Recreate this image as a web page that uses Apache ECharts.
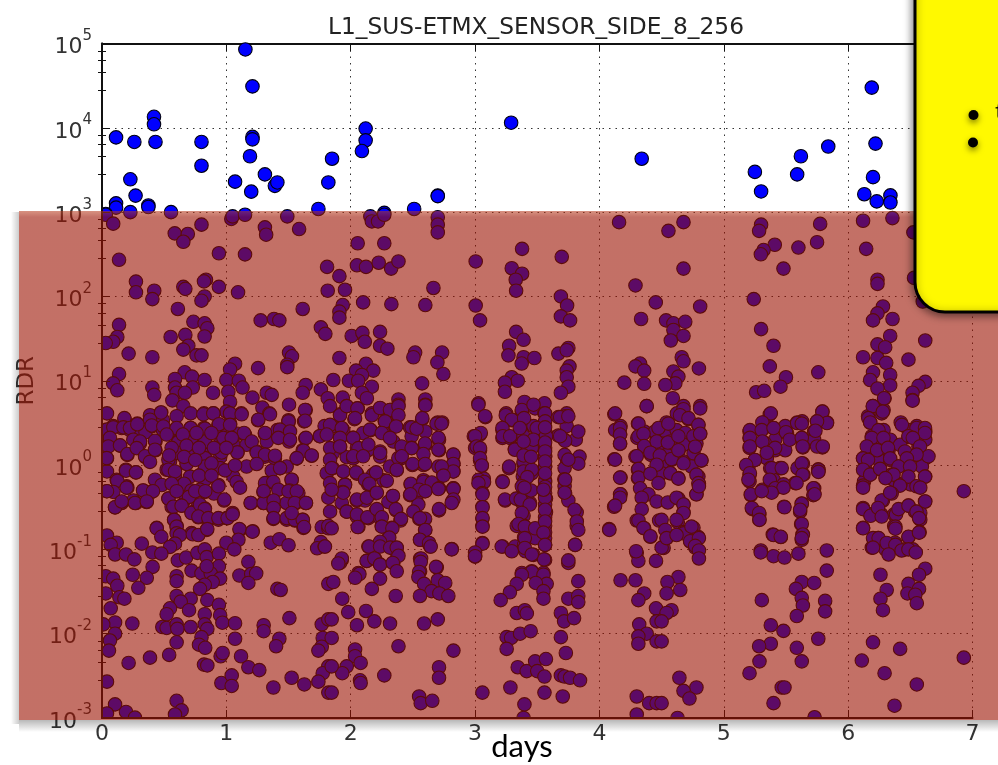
<!DOCTYPE html>
<html><head><meta charset="utf-8">
<style>html,body{margin:0;padding:0;background:#fff;overflow:hidden}#c{width:998px;height:765px}</style>
<script src="https://cdn.jsdelivr.net/npm/echarts@6/dist/echarts.min.js"></script>
</head><body><div id="c"></div>
<script>
const chartTitle = "L1_SUS-ETMX_SENSOR_SIDE_8_256";
const xTicks = [0,1,2,3,4,5,6,7];
const pointsAbove = [[1.153,85000],[1.21,31000],[.418,13500],[.418,11000],[.113,7700],[.26,6800],[.43,6800],[.8,6800],[.8,3550],[1.21,7800],[1.21,7300],[1.19,4600],[.228,2450],[1.07,2300],[1.31,2800],[1.39,2050],[1.41,2250],[1.2,1750],[.27,1570],[.113,1270],[.113,1130],[.373,1200],[.373,1150],[.03,950],[.228,1000],[.555,1000],[1.74,1090],[2.12,9800],[2.12,7100],[2.09,5300],[1.85,4300],[1.82,2250],[2.27,980],[2.51,1090],[2.7,1570],[2.7,1550],[3.29,11500],[4.34,4300],[5.25,3000],[5.3,1760],[5.59,2800],[5.62,4600],[5.84,6000],[6.19,30000],[6.22,6500],[6.2,2600],[6.13,1630],[6.23,1340],[6.34,1580],[6.34,1300]];
const day0to2Upper = [[.03,930],[.09,730],[.8,710],[.585,560],[.69,550],[.654,445],[.94,325],[1.15,315],[.137,272],[1.04,830],[1.05,890],[1.15,930],[1.49,890],[1.31,660],[1.32,540],[1.585,630],[1.81,224],[1.815,117],[.273,150],[.273,112],[.42,117],[.405,93],[.654,130],[.67,123],[.836,158],[.82,151],[.94,130],[1.094,112],[.825,100],[.8,89],[.61,71],[1.614,71],[1.276,52],[1.383,54],[1.426,52],[1.76,43],[1.796,36],[.137,46],[.123,33],[.09,29],[.03,28],[.735,50],[.825,48],[.847,42],[.825,33.5],[.552,33],[.67,35],[.694,26],[.654,23.4],[.214,21],[.405,19],[.76,20],[.8,20],[1.504,21.6],[1.528,19.5],[1.49,15.5],[1.49,14.5],[1.255,14.1],[1.07,15.9],[1.03,13.6],[.665,12.6],[.137,12],[.587,10.5],[.724,11.2],[.825,10.2],[1,10.2],[1.1,10],[.09,9.3],[.123,7.7],[.405,8.3],[.42,6.8],[.587,8.3],[.73,8.3],[.6,7.2],[.667,7.2],[.893,7.2],[1.016,7.4],[1.13,8.3],[1.325,7.2],[1.365,6.8],[1.638,8.9],[1.614,7.2],[1.76,7.9],[1.21,6.3],[.566,5.85],[1.03,5.6],[.654,5],[1.29,4.8],[1.504,5.2],[1.815,6.2],[1,4.3],[.04,4.1],[.475,4.2],[.713,4.1],[1.638,4.5],[1.03,4],[.82,4.1],[.895,4.1],[1.12,4.1],[1.346,4.1]];
const day0to2Band = [[.386,3.8],[.182,3.5],[.49,3.4],[1.5,3.4],[1.625,3.3],[1.255,3.4],[.284,3.1],[.04,2.6],[.09,2.9],[.158,2.75],[.225,2.6],[.284,2.6],[.35,2.45],[.405,2.9],[.49,2.6],[.587,2.6],[.713,2.75],[.82,2.75],[.936,3],[1.03,3.1],[.976,2.35],[1.09,2.35],[1.15,2.3],[1.31,2.35],[1.41,2.6],[1.5,3.2],[1.504,2.5],[1.75,2.2],[1.635,2.07],[1.79,2.9],[.04,1.9],[.145,1.7],[.305,1.8],[.43,1.9],[.61,1.9],[.72,2],[.83,1.9],[.95,1.8],[1.056,1.74],[1.163,1.74],[1.244,1.45],[1.325,1.9],[1.504,1.9],[1.614,1.5],[1.686,1.29],[.04,1.2],[.204,1.32],[.35,1.24],[.43,1.5],[.547,1.1],[.68,1.05],[.83,1.32],[.95,1.24],[1.09,1.41],[1.163,.96],[1.31,1.26],[1.39,1.2],[1.485,.96],[1.566,1.2],[.04,.84],[.193,.88],[.273,.82],[.118,.67],[.198,.56],[.52,.88],[.587,.77],[.708,.73],[.82,.84],[.95,.92],[1.056,.73],[1.43,.92],[1.525,.67],[1.325,.61],[1.807,.8]];
const day0to2BandDense = [[.18,3.6],[.386,3.9],[.475,4.2],[.386,3.45],[.6,3.8],[.815,4],[.895,4.1],[1.03,4.1],[1.123,4],[1.257,3.45],[1.351,4],[1.5,3.3],[1.633,4.5],[1.633,3.35],[.038,2.63],[.091,2.8],[.172,2.8],[.225,2.75],[.284,3.05],[.4,2.95],[.493,2.87],[.6,2.75],[.713,2.75],[.828,2.7],[.941,3.05],[1.03,3],[1.142,2.4],[1.311,2.4],[1.432,2.63],[1.512,2.5],[1.753,2.2],[.038,1.82],[.064,2.1],[.252,2],[.306,1.9],[.426,1.94],[.614,1.87],[.72,2.1],[.828,1.9],[.976,2.1],[1.043,2.1],[1.204,1.9],[1.418,2.1],[1.512,2],[1.64,2.1],[.051,1.66],[.145,1.71],[.204,1.35],[.279,1.59],[.346,1.27],[.386,1.09],[.426,1.52],[.534,1.16],[.614,1.39],[.713,1.45],[.828,1.21],[.962,1.41],[1.088,1.41],[1.244,1.41],[1.311,1.33],[1.391,1.29],[1.62,1.48],[1.686,1.3],[1.566,1.21],[.038,1.21],[.193,.857],[.273,.82],[.534,.88],[.587,.84],[.681,1.03],[.828,.96],[.989,.865],[1.07,.99],[1.244,1.03],[1.365,.857],[1.432,.92],[.123,.65],[.426,.67],[.48,.58],[.828,.67],[.936,.58],[1.083,.63],[1.311,.61],[1.378,.63],[1.525,.67],[.038,.49],[.091,.48],[.204,.54],[.332,.5],[.4,.48],[.534,.4],[.606,.49],[.676,.4],[.788,.51],[.828,.48],[1.298,.48],[1.418,.51],[1.507,.5],[1.579,.465],[.105,.315],[.158,.355],[.252,.38],[.273,.355],[.359,.365],[.56,.32],[.64,.33],[.775,.34],[.828,.305],[.981,.38],[1.196,.355],[1.298,.355],[1.378,.365],[1.485,.355],[1.558,.355],[1.64,.355],[1.378,.31],[.72,.275],[.775,.24],[.855,.225],[.936,.225],[1.003,.235],[1.05,.27],[.58,.225],[1.378,.23],[1.485,.225],[1.552,.22],[1.614,.225],[.44,.18],[.6,.19],[.72,.156],[.842,.17],[1.11,.17],[1.212,.164],[1.62,.18],[.52,2.3],[.56,1.6],[.65,2.3],[.68,1.7],[.76,2.4],[.78,1.6],[.88,2.4],[.9,1.6],[1,1.6],[.54,1.3],[.66,1.25],[.75,1.15],[.88,1.05],[.78,.75],[.66,.6],[.72,.5],[.88,.75],[.7,.42],[.9,.46],[.56,.6]];
const day0to2Lower = [[.04,.49],[.105,.316],[.158,.37],[.265,.355],[.198,.54],[.33,.5],[.41,.49],[.36,.37],[.534,.4],[.574,.32],[.64,.33],[.6,.49],[.75,.49],[.83,.49],[.936,.56],[.72,.27],[.788,.34],[.826,.3],[.775,.245],[.855,.235],[.936,.235],[1.01,.235],[1.05,.26],[.984,.39],[1.11,.54],[1.196,.355],[1.3,.355],[1.38,.38],[1.38,.31],[1.38,.235],[1.3,.49],[1.5,.49],[1.566,.49],[1.55,.355],[1.64,.355],[1.485,.235],[1.55,.224],[1.614,.224],[1.625,.184],[1.525,.27],[.58,.224],[.6,.186],[.6,.155],[.627,.148],[.44,.178],[.477,.141],[.73,.151],[.775,.148],[.847,.174],[1.105,.174],[1.21,.162],[1.097,.13],[1,.12],[1.064,.1],[1.357,.12],[1.426,.132],[1.5,.112],[1.767,.184],[1.82,.178],[1.76,.122],[1.73,.103],[1.79,.108],[.04,.146],[.118,.12],[.07,.113],[.32,.117],[.587,.117],[.547,.107],[.405,.092],[.477,.089],[.105,.087],[.193,.087],[.26,.076],[.61,.074],[.676,.08],[.767,.091],[.826,.1],[.842,.081],[.94,.089],[.94,.063],[1.177,.071],[.72,.056],[.8,.052],[.874,.052],[.842,.063],[.407,.062],[.03,.048],[.09,.045],[.247,.05],[.36,.046],[.123,.037],[.6,.048],[.6,.042],[.95,.045],[.89,.041],[.826,.038],[.788,.034],[1.105,.049],[1.2,.051],[1.24,.052],[1.177,.04],[1.82,.039],[.292,.035],[1.41,.034],[1.437,.033],[.03,.03],[.14,.027],[.18,.026],[.6,.028],[.713,.026],[.847,.025],[.633,.024],[.94,.022],[.07,.02],[.547,.02],[.7,.019],[.52,.017],[.826,.017],[.95,.0166],[.105,.0136],[.244,.0132],[.01,.0129],[.968,.0135],[1.07,.0133],[1.3,.0126],[1.507,.0153],[1.767,.0129],[1.82,.0148],[.485,.012],[.52,.0117],[.6,.0129],[.606,.0114],[.713,.012],[.826,.0129],[.847,.0114],[1.3,.0107],[.105,.01],[.6,.0079],[.8,.0091],[1.07,.0087],[1.426,.0087],[1.775,.0089],[.064,.0083],[.056,.0063],[.78,.0074],[.83,.0068],[1.4,.0071],[1.767,.007],[1.74,.0063],[.386,.0052],[.54,.0056],[.954,.0054],[.97,.0059],[1.118,.0054],[.214,.0045],[.82,.0043],[.847,.0042],[1.177,.004],[1.265,.0037],[1.82,.0041],[1.775,.0034],[.04,.0027],[.96,.0026],[1.043,.0032],[1.043,.0024],[1.525,.003],[1.627,.0025],[1.74,.0027],[1.378,.0023],[1.82,.002],[.6,.0016],[.105,.00145],[.193,.00118],[.64,.00123],[.04,.00113],[.587,.0011],[.265,.00101]];
const day2to4Upper = [[2.158,890],[2.17,775],[2.22,775],[2.27,930],[2.7,870],[2.7,710],[2.7,575],[2.056,427],[2.27,427],[2.05,234],[2.123,224],[2.225,251],[2.325,214],[2.384,260],[1.909,174],[1.954,120],[2.665,126],[3.005,260],[3.378,367],[3.295,216],[3.378,186],[3.327,158],[3.33,117],[3.697,295],[4.158,760],[4.29,135],[2.1,85],[2.327,81],[2.6,79],[3.005,78],[3.69,100],[3.74,78],[3.69,58],[3.764,52],[3.04,52],[4.453,85],[4.335,54],[1.936,79],[1.909,66],[1.909,56],[2.008,34],[2.094,37],[2.113,29],[2.236,38],[2.236,26],[2.295,24],[1.909,18.6],[2.518,21.6],[2.504,19],[2.735,21.6],[2.697,16.5],[2.745,12],[3.33,38],[3.39,30.6],[3.274,26],[3.268,20],[3.39,19],[3.375,16],[3.477,18.6],[3.67,21],[3.75,24.5],[3.737,23],[3.759,14.8],[3.737,13.2],[3.737,11],[3.75,8.5],[3.69,7.2],[3.295,11],[3.343,10],[3.24,9.5],[3.24,7.4],[4.327,16],[4.29,14.8],[4.36,13.2],[4.2,9.5],[4.36,9.2],[4.38,5],[4.12,4],[3.027,5.4],[3.083,3.7],[2.123,15.9],[2.043,13.2],[2.182,13.2],[2.09,11.7],[1.86,10.2],[1.986,10],[2.06,10],[2.17,8.5],[2.09,7.2],[2.13,6.2],[2.574,9.3],[2.384,6],[2.6,6],[2.6,5.2],[1.936,6.3],[1.968,5],[2.056,4.7],[2.236,4.7],[2.316,4.5],[2.384,5.2],[2.17,4.1],[2.375,4],[1.914,4],[2.03,3.5],[2.274,3.3],[2.574,3.5],[2.7,3.2],[2.735,3.2]];
const day2to4Band = [[2.161,2.6],[2.1,2.4],[1.94,2.6],[2.02,2.1],[1.914,2.1],[1.855,2.9],[2.263,2.5],[2.356,2.9],[2.343,1.9],[2.477,2.8],[2.531,2.7],[2.6,2.5],[2.49,2.2],[2.71,2],[2.6,1.74],[2.41,1.62],[2.49,1.6],[2.71,1.5],[2.826,1.32],[2.236,1.45],[2.137,1.5],[2.05,1.6],[1.914,1.62],[1.855,1.38],[1.968,1.24],[2.02,1.2],[2.405,1.2],[2.496,1],[2.585,1],[2.705,.96],[2.826,1.05],[2.826,.84],[2.745,.77],[2.37,.87],[2.316,.96],[2.236,1.26],[1.94,.84],[1.855,.92],[2.05,.79],[2.18,.77],[2.264,.66],[2.14,.59],[1.954,.59],[2.482,.59],[2.585,.66],[2.652,.59],[2.826,.53],[3.04,2.3],[2.99,2.2],[3.04,1.5],[3,1.6],[3.04,1.14],[3.054,.98],[3.07,.69],[3.03,.67],[3.22,.64],[3.273,.92],[3.25,4.1],[3.295,3.4],[3.22,2.6],[3.22,2.1],[3.28,2.1],[3.32,1.55],[3.397,5.6],[3.376,4.3],[3.376,2.9],[3.376,2.2],[3.39,1.5],[3.39,1.04],[3.456,.8],[3.384,.73],[3.483,4.7],[3.558,5.4],[3.558,4.1],[3.497,2.7],[3.57,2.35],[3.456,1.6],[3.563,1.6],[3.563,1.26],[3.563,.96],[3.563,.66],[3.47,2.9],[3.67,3.7],[3.737,4.1],[3.737,2.9],[3.67,2.24],[3.718,2],[3.81,2],[3.83,2.5],[3.74,1.15],[3.84,1.26],[3.83,1.04],[3.72,1.32],[3.72,.92],[3.718,.68],[3.72,.56],[4.12,1.17],[4.126,2.6],[4.17,2.9],[4.166,2.3],[4.166,1.78],[4.29,1.26],[4.31,3.1],[4.305,2.1],[4.36,2.5],[4.36,1.66],[4.415,1.32],[4.46,2],[4.447,2.5],[4.31,.88],[4.42,.8],[4.31,.7],[4.17,.71],[4.475,1.15]];
const day2to4BandDense = [[1.834,5],[1.914,3.9],[1.968,5],[2.054,4.7],[2.035,3.6],[2.17,3.9],[2.236,4.75],[2.316,4.5],[2.384,5],[2.384,3.9],[2.276,3.3],[2.6,5.1],[1.834,3],[1.928,2.75],[1.807,2.3],[1.914,2.1],[1.834,1.59],[1.914,1.66],[2.02,2.1],[2.062,1.59],[2.155,2.63],[2.25,2.4],[2.365,2.87],[2.142,1.75],[2.236,1.39],[2.316,2.1],[2.41,1.66],[2.383,1.21],[2.49,2.8],[2.53,2.7],[2.576,3.6],[2.69,3.1],[2.73,3.1],[2.598,1.8],[2.49,1.59],[2.705,2.1],[2.585,1.35],[2.498,1.03],[2.705,1.52],[2.825,1.33],[2.825,1.03],[2.825,.84],[2.732,.96],[2.746,.75],[2.598,1.03],[2.41,1.27],[1.834,1.16],[1.847,.92],[1.834,.61],[1.94,.84],[2.02,1.27],[2.1,1.27],[2.043,.82],[2.204,.82],[2.115,.67],[2.15,.6],[2.29,.65],[2.37,.88],[1.954,.58],[1.936,.48],[1.82,.41],[1.928,.355],[2.048,.38],[2.115,.38],[2.204,.465],[2.338,.43],[2.303,.365],[1.968,.28],[1.834,.28],[2.142,.235],[2.048,.245],[2.204,.29],[2.365,.29],[2.236,.235],[2.4,.22],[2.483,.6],[2.477,.44],[2.53,.43],[2.598,.49],[2.585,.63],[2.652,.62],[2.71,.53],[2.825,.53],[2.817,.37],[2.544,.34],[2.504,.28],[2.552,.23],[2.71,.29],[2.598,.23],[2.598,.17],[1.82,.19],[2.062,.185],[2.25,.19],[2.33,.18],[2.303,.136],[2.558,.13],[2.625,.119],[2.142,.108],[2.236,.119],[2.33,.104],[2.37,.104],[1.793,.108],[2.812,.101],[2.64,.108],[1.928,.075],[1.914,.069],[2.13,.073],[2.195,.0775],[2.236,.066],[2.343,.069],[2.376,.086],[2.558,.0775],[2.692,.061],[2.558,.055],[2.062,.0525],[3.027,5.2],[3.08,3.8],[3.046,2.4],[3,2.2],[3.013,1.66],[3.04,1.59],[3.04,1.21],[3.054,.99],[3.072,.63],[3.027,.61],[3.222,.63],[3.059,.465],[3.242,.38],[3.059,.32],[3.059,.235],[3.059,.19],[3.059,.119],[3,.086],[3,.082],[3.222,.108],[3.295,.097],[3.322,.108],[3.274,.96],[3.247,3.9],[3.295,3.45],[3.22,2.75],[3.223,2.2],[3.282,2.2],[3.32,1.52],[3.376,4.5],[3.394,3.6],[3.39,2.2],[3.36,2.75],[3.456,1.59],[3.39,1.09],[3.39,.84],[3.456,.88],[3.39,.61],[3.362,.38],[3.442,.355],[3.39,.25],[3.335,.19],[3.394,.19],[3.469,.17],[3.394,.14],[3.394,.113],[3.47,.086],[3.405,.095],[3.47,5.2],[3.563,4.1],[3.563,3.3],[3.496,2.75],[3.57,2.2],[3.469,2],[3.563,1.27],[3.563,.96],[3.563,.63],[3.563,.465],[3.57,.4],[3.57,.275],[3.563,.19],[3.563,.136],[3.563,.113],[3.563,.075],[3.483,.136],[3.456,.055],[3.376,.0525],[3.55,.0525],[3.724,3.8],[3.684,3.7],[3.75,3.8],[3.724,1.94],[3.684,2.2],[3.75,1.16],[3.724,.67],[3.724,.465],[3.75,.38],[3.817,.275],[3.817,.19],[3.804,.113],[3.75,.069],[3.563,2.8],[3.563,1.85],[3.563,1.45],[3.563,1.1],[3.563,.8],[3.563,.55],[3.563,.34],[3.563,.24],[3.563,.16],[3.39,1.9],[3.39,1.3],[3.39,.5],[3.39,.33],[3.42,.72],[3.45,.5],[3.45,1.25]];
const day2to4Lower = [[1.94,.47],[1.847,.51],[1.968,.28],[2.05,.39],[2.13,.41],[2.21,.47],[2.34,.43],[2.05,.26],[2.134,.24],[2.21,.3],[2.362,.3],[2.405,.23],[2.25,.24],[2.056,.184],[1.847,.178],[2.25,.186],[2.335,.178],[2.31,.138],[2.236,.123],[2.147,.108],[2.236,.108],[2.317,.105],[2.37,.105],[2.384,.084],[2.128,.073],[2.19,.078],[2.236,.066],[2.338,.069],[2.37,.055],[1.928,.078],[1.9,.068],[2.07,.051],[2.035,.046],[2.236,.045],[1.86,.041],[2.17,.034],[2.362,.028],[1.932,.026],[2.123,.0186],[2.19,.014],[1.98,.018],[1.847,.0148],[2.05,.0126],[2.316,.0132],[1.847,.0089],[2.035,.0065],[2.035,.0054],[2.384,.0071],[2.08,.0045],[1.968,.0041],[1.932,.0034],[1.847,.0041],[2.075,.0028],[2.08,.0026],[2.27,.0032],[1.847,.002],[2.55,.51],[2.48,.45],[2.6,.49],[2.705,.52],[2.826,.52],[2.826,.39],[2.812,.355],[2.71,.3],[2.557,.235],[2.6,.17],[2.557,.13],[2.63,.119],[2.643,.108],[2.812,.1],[2.566,.078],[2.563,.071],[2.686,.062],[2.55,.054],[2.544,.047],[2.59,.039],[2.7,.043],[2.76,.04],[2.65,.032],[2.713,.03],[2.785,.028],[2.557,.028],[2.59,.0132],[2.7,.0148],[2.826,.0063],[2.71,.004],[2.71,.003],[2.55,.0018],[2.563,.0015],[2.656,.0016],[3.06,.45],[3.06,.316],[3.06,.235],[3.06,.186],[3.06,.117],[3,.092],[3,.083],[3.24,.39],[3.33,.4],[3.367,.39],[3.44,.34],[3.376,.27],[3.35,.2],[3.4,.186],[3.483,.178],[3.4,.136],[3.563,.41],[3.563,.295],[3.563,.214],[3.55,.158],[3.563,.113],[3.555,.076],[3.214,.108],[3.295,.095],[3.4,.104],[3.456,.087],[3.376,.56],[3.55,.51],[3.397,.54],[3.456,.054],[3.376,.05],[3.335,.039],[3.55,.05],[3.576,.039],[3.488,.04],[3.55,.032],[3.55,.026],[3.28,.031],[3.206,.025],[3.335,.0176],[3.4,.019],[3.416,.0174],[3.254,.0091],[3.29,.0089],[3.362,.01],[3.447,.0107],[3.254,.0066],[3.343,.004],[3.415,.0036],[3.483,.0047],[3.57,.005],[3.5,.0036],[3.558,.0031],[3.059,.002],[3.284,.0023],[3.558,.002],[3.397,.00145],[3.39,.001],[3.72,.47],[3.8,.295],[3.818,.214],[3.83,.17],[3.805,.113],[3.75,.074],[3.83,.042],[3.75,.026],[3.83,.028],[3.83,.0237],[3.69,.0176],[3.716,.014],[3.796,.0153],[3.69,.0091],[3.73,.0059],[3.69,.0032],[3.72,.0031],[3.764,.003],[3.844,.0028],[3.705,.0018],[4.078,.174],[4.118,.32],[4.17,.45],[4.3,.22],[4.36,.178],[4.41,.141],[4.3,.091],[4.313,.073],[4.455,.073],[4.17,.043],[4.29,.043],[4.36,.03],[4.313,.025],[4.455,.02],[4.46,.014],[4.32,.0129],[4.38,.01],[4.313,.0093],[4.313,.0076],[4.46,.0081],[4.3,.0018],[4.4,.0015],[4.46,.0015],[4.3,.0011]];
const day4to7Upper = [[4.676,760],[4.555,600],[4.676,214],[5.3,710],[5.284,600],[5.775,725],[5.75,440],[5.41,410],[5.6,380],[5.32,355],[5.298,316],[5.48,214],[6.12,790],[6.356,850],[6.145,367],[6.236,158],[6.236,141],[5.241,93],[4.81,76],[6.28,76],[6.236,63],[6.2,52],[6.357,54],[4.536,52],[4.595,48],[4.69,50],[4.595,40],[4.676,34],[4.574,30],[5.3,41],[5.4,26],[6.338,34],[6.62,30],[6.236,27],[6.298,25],[6.12,19],[6.236,18.6],[6.306,16.3],[6.485,17.8],[4.662,19],[4.676,17],[4.8,14],[5.37,14.8],[5.76,12.6],[5.5,11],[4.595,12.9],[4.635,11.2],[4.61,9.3],[4.53,8.9],[5.456,8.5],[5.26,7.3],[5.325,7.6],[6.2,12.6],[6.338,11.7],[6.177,10.2],[6.338,8.8],[6.236,8.1],[6.62,9.7],[6.566,8.7],[6.518,7.2],[6.518,5.9],[6.293,6.2],[6.2,5],[6.285,4.5],[6.27,4.1],[4.59,6.2],[4.676,5],[4.81,5],[4.623,4.1],[5.37,4],[5.793,4.3],[5.83,3.2],[5.75,3.3],[5.63,3.3],[5.59,3.2],[5.32,3.2],[6.525,575],[6.53,166],[6.6,87]];
const day4to7Band = [[4.54,3.2],[4.716,3.5],[4.796,3],[4.54,2.4],[4.62,2.6],[4.69,2.4],[4.757,2.1],[4.81,2.35],[4.57,1.9],[4.5,1.8],[4.676,1.74],[4.78,1.8],[4.635,1.45],[4.757,1.38],[4.54,1.32],[4.82,1.13],[4.58,1.15],[4.676,1.1],[4.5,1],[4.74,.96],[4.635,.7],[4.57,.8],[4.796,.73],[4.8,.6],[4.5,.8],[5.207,2.5],[5.207,2.1],[5.207,1.6],[5.25,1.15],[5.2,.98],[5.207,.77],[5.207,.64],[5.305,2.6],[5.4,2.75],[5.494,2.9],[5.508,2.4],[5.413,2],[5.33,1.82],[5.413,1.5],[5.494,1.5],[5.346,1.2],[5.453,.92],[5.373,.92],[5.4,.67],[5.574,.61],[5.48,.59],[5.64,.77],[5.593,.92],[5.636,1.04],[5.627,2.1],[5.636,1.62],[5.727,2.5],[5.727,2],[5.793,1.62],[5.76,.89],[5.76,.84],[5.727,.53],[6.16,3.8],[6.177,3.2],[6.285,2.6],[6.19,2.2],[6.256,2],[6.338,2],[6.164,1.62],[6.23,1.5],[6.325,1.5],[6.12,1.2],[6.245,1.17],[6.137,.92],[6.256,.89],[6.177,.77],[6.128,.64],[6.423,3.2],[6.485,2.6],[6.552,2.9],[6.62,2.5],[6.485,2.15],[6.62,2],[6.566,1.66],[6.418,1.74],[6.338,1.15],[6.552,1.32],[6.485,.96],[6.405,.96],[6.62,1.2],[6.593,.96],[6.62,.73],[6.35,.77],[6.365,.67],[6.5,.59],[6.42,.59],[6.93,.49]];
const day4to7BandDense = [[4.126,4.1],[4.38,5],[4.676,4.6],[4.81,4.7],[4.314,3.1],[4.475,2.75],[4.554,3.1],[4.648,3.9],[4.716,3.6],[4.796,3],[4.166,2.75],[4.166,2.3],[4.166,1.8],[4.314,2.2],[4.354,2.35],[4.46,1.9],[4.55,1.85],[4.635,2.2],[4.756,2.2],[4.81,2.35],[4.36,1.68],[4.41,1.4],[4.486,1.3],[4.58,1.18],[4.635,1.5],[4.77,1.65],[4.82,1.14],[4.3,1.27],[4.126,1.16],[4.676,1.05],[4.314,.9],[4.46,1.01],[4.314,.71],[4.41,.79],[4.57,.8],[4.635,.69],[4.78,.77],[4.796,.61],[4.475,.61],[4.166,.71],[4.327,.53],[4.394,.45],[4.166,.45],[4.166,.41],[4.78,.45],[4.34,.41],[4.46,.37],[4.55,.36],[4.635,.4],[4.676,.34],[4.126,.33],[4.34,.3],[4.676,.275],[4.314,.22],[4.48,.22],[4.63,.21],[4.08,.17],[4.354,.18],[4.41,.143],[4.54,.136],[4.676,.16],[4.756,.18],[4.73,.124],[4.796,.14],[4.516,.104],[4.295,.095],[4.77,.105],[5.378,4.1],[5.793,4.3],[5.83,3.15],[5.31,3.2],[5.21,2.6],[5.21,2.1],[5.21,1.66],[5.305,2.6],[5.4,2.75],[5.5,2.45],[5.59,3.15],[5.627,3.1],[5.75,3.3],[5.737,2.55],[5.31,1.9],[5.413,1.6],[5.53,2],[5.627,2.1],[5.634,1.66],[5.75,1.66],[5.796,1.66],[5.25,1.15],[5.346,1.4],[5.18,1],[5.21,.8],[5.198,.67],[5.385,.92],[5.466,.92],[5.627,1.05],[5.634,.77],[5.761,.88],[5.761,.83],[5.31,.51],[5.37,.67],[5.413,.53],[5.48,.54],[5.585,.61],[5.72,.53],[5.72,.44],[5.218,.44],[5.385,.47],[5.627,.35],[5.614,.28],[5.485,.32],[5.23,.3],[5.286,.26],[5.286,.225],[5.622,.2],[5.394,.15],[5.459,.14],[5.633,.15],[5.627,.13],[5.298,.097],[6.289,6.2],[6.518,5.8],[6.198,5],[6.279,4.3],[6.163,3.6],[6.177,3.2],[6.244,2.6],[6.432,3],[6.55,2.75],[6.618,2.75],[6.485,2.2],[6.618,2.4],[6.19,2.1],[6.284,2.1],[6.52,2.1],[6.15,1.66],[6.233,1.5],[6.32,1.6],[6.457,1.45],[6.578,1.66],[6.646,1.27],[6.55,1.33],[6.12,1.2],[6.16,1.15],[6.338,1.2],[6.472,1.2],[6.405,.96],[6.498,.96],[6.618,.73],[6.12,.88],[6.177,.77],[6.257,.9],[6.365,.77],[6.485,.73],[6.12,.57],[6.3,.7],[6.417,.57],[6.55,.56],[6.35,.46],[6.28,.38],[6.618,.37],[6.485,.33],[6.538,.28],[6.58,.27],[6.12,.31],[6.177,.26],[6.267,.26],[6.37,.26],[6.58,.225],[6.37,.19],[6.12,.18],[6.575,.16],[6.485,.14],[6.24,.136],[6.377,.12],[6.19,.105],[6.3,.1],[6.457,.1],[6.52,.1]];
const day4to7Lower = [[4.62,.41],[4.676,.34],[4.676,.27],[4.78,.45],[4.8,.56],[4.5,.224],[4.62,.224],[4.53,.17],[4.5,.105],[4.676,.155],[4.74,.186],[4.54,.136],[4.62,.148],[4.73,.125],[4.8,.136],[4.77,.11],[4.8,.097],[4.8,.078],[4.635,.047],[4.547,.041],[4.65,.033],[4.54,.03],[4.58,.019],[4.54,.0176],[4.5,.014],[4.5,.0081],[4.643,.003],[4.78,.0023],[4.676,.0021],[4.724,.0017],[4.5,.0015],[4.628,.001],[5.217,.45],[5.225,.31],[5.284,.27],[5.287,.224],[5.305,.49],[5.4,.148],[5.458,.141],[5.488,.316],[5.627,.347],[5.614,.295],[5.627,.2],[5.636,.15],[5.627,.136],[5.73,.45],[5.4,.083],[5.488,.08],[5.297,.092],[5.6,.089],[5.828,.097],[5.828,.056],[5.627,.041],[5.727,.04],[5.58,.034],[5.627,.0266],[5.636,.0216],[5.587,.0162],[5.815,.0245],[5.815,.0184],[5.306,.025],[5.378,.0126],[5.48,.0108],[5.76,.0087],[5.378,.0076],[5.284,.0071],[5.587,.0068],[5.287,.0047],[5.627,.0047],[5.207,.0034],[5.466,.0023],[5.488,.0023],[5.4,.0015],[5.73,.00102],[6.12,.54],[6.27,.38],[6.12,.3],[6.18,.25],[6.24,.31],[6.27,.245],[6.385,.26],[6.405,.3],[6.485,.33],[6.55,.28],[6.57,.235],[6.62,.37],[6.58,.54],[6.338,.47],[6.38,.186],[6.38,.176],[6.12,.178],[6.2,.136],[6.245,.136],[6.485,.141],[6.57,.158],[6.2,.105],[6.31,.119],[6.38,.113],[6.325,.087],[6.43,.097],[6.485,.1],[6.544,.092],[6.62,.059],[6.57,.05],[6.26,.05],[6.485,.039],[6.57,.034],[6.31,.033],[6.477,.03],[6.54,.029],[6.26,.026],[6.28,.019],[6.552,.023],[6.2,.0079],[6.418,.0066],[6.11,.0048],[6.293,.0034],[6.552,.0025],[6.373,.0014],[6.93,.0052]];

const allPoints = [].concat(pointsAbove, day0to2Upper, day0to2Band, day0to2BandDense, day0to2Lower, day2to4Upper, day2to4Band, day2to4BandDense, day2to4Lower, day4to7Upper, day4to7Band, day4to7BandDense, day4to7Lower);

const font = 'DejaVu Sans';
const logAxisBase = {
  type:'log', logBase:10, min:1e-3, max:1e5, splitNumber:8,
  axisLine:{show:true,lineStyle:{color:'#111',width:2}},
  axisTick:{show:true,inside:true,length:8,lineStyle:{color:'#111',width:1}},
  minorTick:{show:true,splitNumber:5,length:-4,lineStyle:{color:'#111',width:1}},
  minorSplitLine:{show:false}
};
const dotted = {show:true,lineStyle:{color:'#333',type:[1.5,5],width:1}};
const chart = echarts.init(document.getElementById('c'),null,{renderer:'canvas'});
chart.setOption({
  animation:false,
  backgroundColor:'#fff',
  title:{text:chartTitle,left:531,top:11,textAlign:'center',textStyle:{fontFamily:font,fontWeight:'normal',fontSize:23.3,color:'#222'}},
  grid:{left:102,width:870.5,top:43.5,height:674.5,show:false},
  xAxis:[{type:'value',min:0,max:7,interval:1,position:'bottom',z:60,
    axisLine:{show:true,onZero:false,lineStyle:{color:'#111',width:2}},
    axisTick:{show:true,inside:true,length:8,lineStyle:{color:'#111'}},
    axisLabel:{margin:5,fontFamily:font,fontSize:22,color:'#333'},
    splitLine:{show:false}},
   {type:'value',min:0,max:7,interval:1,position:'top',z:1,
    axisLine:{show:true,onZero:false,lineStyle:{color:'#111',width:2}},
    axisTick:{show:true,inside:true,length:8,lineStyle:{color:'#111'}},
    axisLabel:{show:false},splitLine:dotted}],
  yAxis:[Object.assign({},logAxisBase,{position:'left',z:60,name:'RDR',nameLocation:'middle',nameGap:63,
      nameTextStyle:{fontFamily:font,fontSize:23,color:'#333'},
      axisLabel:{margin:10,color:'#333',formatter:function(v){var e=Math.round(Math.log10(v));return '{b|10}{s|'+e+'}';},
        rich:{b:{fontFamily:font,fontSize:22,color:'#333',verticalAlign:'bottom',padding:[8,0,0,0]},s:{fontFamily:font,fontSize:15,color:'#333',verticalAlign:'top',padding:[0,0,8,0]}}},
      splitLine:{show:false}}),
    Object.assign({},logAxisBase,{position:'right',z:1,axisLabel:{show:false},splitLine:dotted})],
  series:[{type:'scatter',name:'RDR',data:allPoints,symbol:'circle',symbolSize:13.5,clip:true,z:3,
    itemStyle:{color:'#0000ff',borderColor:'#000010',borderWidth:1.1,opacity:1}}],
  graphic:[
    {type:'rect',z:50,silent:true,shape:{x:0,y:0,width:101.5,height:765},style:{fill:'#fff'}},
    {type:'rect',z:50,silent:true,shape:{x:0,y:718.5,width:998,height:47},style:{fill:'#fff'}},
    {type:'rect',z:100,silent:true,shape:{x:19,y:720,width:979,height:12},
      style:{fill:new echarts.graphic.LinearGradient(0,0,0,1,[{offset:0,color:'rgba(0,0,0,0.28)'},{offset:1,color:'rgba(0,0,0,0)'}])}},
    {type:'rect',z:100,silent:true,shape:{x:11,y:212,width:8,height:512},
      style:{fill:new echarts.graphic.LinearGradient(1,0,0,0,[{offset:0,color:'rgba(0,0,0,0.2)'},{offset:1,color:'rgba(0,0,0,0)'}])}},
    {type:'rect',z:101,silent:true,shape:{x:19,y:211,width:979,height:509},
      style:{fill:new echarts.graphic.LinearGradient(0,0,0,1,[{offset:0,color:'rgba(185,60,30,0.56)'},{offset:0.012,color:'rgba(155,17,0,0.6)'},{offset:1,color:'rgba(155,17,0,0.6)'}])}},
    {type:'rect',z:102,silent:true,shape:{x:915,y:-40,width:130,height:352,r:30},
      style:{fill:'#fff900',stroke:'#000',lineWidth:3,shadowBlur:9,shadowColor:'rgba(0,0,0,0.5)',shadowOffsetX:-1,shadowOffsetY:2}},
    {type:'circle',z:103,silent:true,shape:{cx:973.5,cy:115,r:5},style:{fill:'#000',shadowBlur:6,shadowColor:'rgba(0,0,0,0.5)',shadowOffsetY:3}},
    {type:'circle',z:103,silent:true,shape:{cx:973,cy:142.5,r:5},style:{fill:'#000',shadowBlur:6,shadowColor:'rgba(0,0,0,0.5)',shadowOffsetY:3}},
    {type:'text',z:103,silent:true,style:{text:'t',x:995,y:123,textAlign:'left',textVerticalAlign:'bottom',fontFamily:'Lato',fontSize:24,fill:'#000'}},
    {type:'text',z:103,silent:true,style:{text:'days',x:522,y:747,textAlign:'center',textVerticalAlign:'middle',fontFamily:'Lato',fontSize:31,fill:'#000'}}
  ]
});
</script></body></html>
